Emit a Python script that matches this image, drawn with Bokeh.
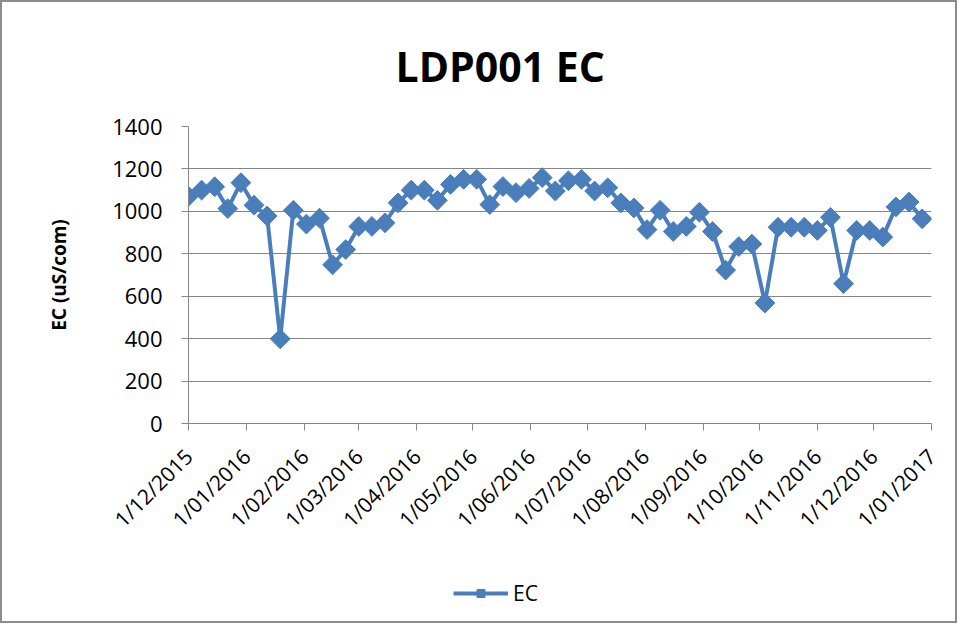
import math
import calendar
from datetime import datetime
from bokeh.plotting import figure
from bokeh.layouts import column
from bokeh.models import ColumnDataSource, FixedTicker, Legend, LegendItem, Range1d
from bokeh.embed import file_html
from bokeh.resources import INLINE

dates = [
    "2015-12-01", "2015-12-08", "2015-12-15", "2015-12-22", "2015-12-29",
    "2016-01-05", "2016-01-12", "2016-01-19", "2016-01-26",
    "2016-02-02", "2016-02-09", "2016-02-16", "2016-02-23",
    "2016-03-01", "2016-03-08", "2016-03-15", "2016-03-22", "2016-03-29",
    "2016-04-05", "2016-04-12", "2016-04-19", "2016-04-26",
    "2016-05-03", "2016-05-10", "2016-05-17", "2016-05-24", "2016-05-31",
    "2016-06-07", "2016-06-14", "2016-06-21", "2016-06-28",
    "2016-07-05", "2016-07-12", "2016-07-19", "2016-07-26",
    "2016-08-02", "2016-08-09", "2016-08-16", "2016-08-23", "2016-08-30",
    "2016-09-06", "2016-09-13", "2016-09-20", "2016-09-27",
    "2016-10-04", "2016-10-11", "2016-10-18", "2016-10-25",
    "2016-11-01", "2016-11-08", "2016-11-15", "2016-11-22", "2016-11-29",
    "2016-12-06", "2016-12-13", "2016-12-20", "2016-12-27",
]
ec_values = [
    1071, 1100, 1116, 1013, 1135,
    1029, 978, 399, 1005,
    940, 968, 748, 820,
    929, 929, 946, 1040, 1100,
    1100, 1052, 1127, 1151,
    1151, 1032, 1117, 1088, 1108,
    1159, 1096, 1144, 1151,
    1096, 1111, 1040, 1016,
    914, 1005, 905, 929, 996,
    905, 723, 834, 846,
    568, 925, 925, 925,
    910, 972, 659, 910, 910,
    879, 1021, 1044, 965,
]
tick_dates = [
    "2015-12-01", "2016-01-01", "2016-02-01", "2016-03-01", "2016-04-01",
    "2016-05-01", "2016-06-01", "2016-07-01", "2016-08-01", "2016-09-01",
    "2016-10-01", "2016-11-01", "2016-12-01", "2017-01-01",
]
tick_labels = [
    "1/12/2015", "1/01/2016", "1/02/2016", "1/03/2016", "1/04/2016",
    "1/05/2016", "1/06/2016", "1/07/2016", "1/08/2016", "1/09/2016",
    "1/10/2016", "1/11/2016", "1/12/2016", "1/01/2017",
]
y_ticks = [0, 200, 400, 600, 800, 1000, 1200, 1400]
series_name = "EC"

FONT = "Open Sans"
BLUE = "#4A7EBB"
GRAY = "#868686"


def to_ms(s):
    d = datetime.strptime(s, "%Y-%m-%d")
    return calendar.timegm(d.timetuple()) * 1000.0


xs = [to_ms(d) for d in dates]
tick_ms = [to_ms(d) for d in tick_dates]

src = ColumnDataSource(dict(x=xs, y=ec_values))

W = 953
H_MAIN = 560
H_LEG = 59

p = figure(
    width=W, height=H_MAIN,
    x_axis_type="datetime",
    x_range=Range1d(tick_ms[0], tick_ms[-1]),
    y_range=Range1d(0, 1400),
    output_backend="svg", toolbar_location=None,
    min_border_left=186, min_border_right=24,
    min_border_top=124, min_border_bottom=139,
    title="LDP001 EC",
)

p.title.align = "left"
p.title.offset = 207
p.title.vertical_align = "top"
p.title.standoff = 62
p.title.text_font = FONT
p.title.text_font_size = "41px"
p.title.text_font_style = "bold"
p.title.text_color = "#000000"

p.outline_line_color = None
p.background_fill_color = "white"
p.border_fill_color = "white"

# grid
p.xgrid.grid_line_color = None
p.ygrid.grid_line_color = GRAY
p.ygrid.grid_line_width = 1
p.ygrid.ticker = FixedTicker(ticks=y_ticks)

# x axis
xa = p.xaxis[0]
xa.ticker = FixedTicker(ticks=tick_ms)
xa.major_label_overrides = {t: l for t, l in zip(tick_ms, tick_labels)}
xa.major_label_orientation = math.pi / 4
xa.major_label_text_font = FONT
xa.major_label_text_font_size = "21px"
xa.major_label_text_color = "#000000"
xa.axis_line_color = GRAY
xa.major_tick_line_color = GRAY
xa.major_tick_out = 7
xa.major_tick_in = 0
xa.minor_tick_line_color = None
xa.major_label_standoff = 22

# y axis
ya = p.yaxis[0]
ya.ticker = FixedTicker(ticks=y_ticks)
ya.major_label_text_font = FONT
ya.major_label_text_font_size = "22px"
ya.major_label_text_color = "#000000"
ya.axis_line_color = GRAY
ya.major_tick_line_color = GRAY
ya.major_tick_out = 7
ya.major_tick_in = 0
ya.minor_tick_line_color = None
ya.major_label_standoff = 19
ya.axis_label = "EC (uS/com)"
ya.axis_label_text_font = FONT
ya.axis_label_text_font_size = "19px"
ya.axis_label_text_font_style = "bold"
ya.axis_label_text_color = "#000000"
ya.axis_label_standoff = 37

p.line("x", "y", source=src, line_color=BLUE, line_width=4)
p.scatter("x", "y", source=src, marker="square", angle=math.pi / 4,
          size=14, fill_color=BLUE, line_color=BLUE)

# legend strip below the chart (its frame is aligned with the chart's frame)
lf = figure(
    width=W, height=H_LEG,
    x_range=Range1d(0, 1), y_range=Range1d(0, 1),
    output_backend="svg", toolbar_location=None,
    min_border=0,
)
lf.axis.visible = False
lf.grid.visible = False
lf.outline_line_color = None
lf.background_fill_color = "white"
lf.border_fill_color = "white"
# same series drawn here only to feed the legend swatch (out of this strip's range)
l_line = lf.line("x", "y", source=src, line_color=BLUE, line_width=4)
l_pts = lf.scatter("x", "y", source=src, marker="square", angle=math.pi / 4,
                   size=13, fill_color=BLUE, line_color=BLUE)
legend = Legend(
    items=[LegendItem(label=series_name, renderers=[l_line, l_pts])],
    location=(265, 14),
    orientation="horizontal",
    label_text_font=FONT,
    label_text_font_size="21px",
    label_text_color="#000000",
    glyph_width=55,
    glyph_height=20,
    background_fill_alpha=0,
    border_line_color=None,
    label_standoff=5,
    padding=0,
    margin=0,
)
lf.add_layout(legend, "center")

layout = column(p, lf, spacing=0)
layout.styles = {"border": "2px solid #8c8c8c", "box-sizing": "border-box",
                 "background-color": "white"}

open("out.html", "w").write(file_html(layout, INLINE))
